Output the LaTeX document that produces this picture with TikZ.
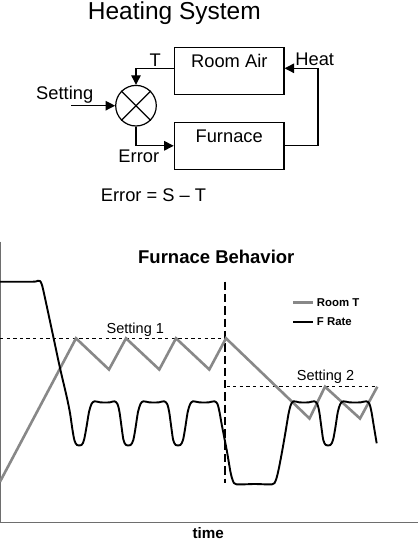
\documentclass[tikz,border=0pt]{standalone}
\usepackage{fontspec}
\setmainfont{Liberation Sans}
\usetikzlibrary{arrows.meta}
\definecolor{axisgray}{RGB}{110,110,110}
\definecolor{roomgray}{RGB}{136,136,136}
\begin{document}
\begin{tikzpicture}[x=1pt,y=-1pt,
  lbl/.style={font=\fontsize{18.3}{20}\selectfont, inner sep=0pt, anchor=base},
  ttlfont/.style={font=\fontsize{24.5}{27}\selectfont, inner sep=0pt, anchor=base},
  boldlbl/.style={font=\fontsize{18.5}{20}\selectfont\bfseries, inner sep=0pt, anchor=base},
  timelbl/.style={font=\fontsize{15.2}{17}\selectfont\bfseries, inner sep=0pt, anchor=base},
  setlbl/.style={font=\fontsize{14.5}{16}\selectfont, inner sep=0pt, anchor=base},
  leglbl/.style={font=\fontsize{11.4}{13}\selectfont\bfseries, inner sep=0pt, anchor=west},
  blk/.style={draw, line width=1.2pt, minimum width=109.7pt, minimum height=47pt, inner sep=0pt},
  wire/.style={line width=1.2pt},
  sig/.style={line width=1.2pt, -{Triangle[length=9.5pt,width=9.5pt]}},
  axisline/.style={line width=1.2pt, draw=axisgray},
  dotline/.style={line width=1.4pt, dash pattern=on 3.3pt off 3.3pt},
  vdash/.style={line width=1.9pt, dash pattern=on 8.3pt off 4pt},
  roomcurve/.style={line width=2.6pt, draw=roomgray},
  fcurve/.style={line width=1.9pt, draw=black, line join=round}
]
\useasboundingbox (0,0) rectangle (418,541);

% ---------------- block diagram ----------------
\node[ttlfont] (ttl) at (174.3,19.3) {Heating System};

\node[blk] (room) at (229.15,70.65) {};
\node[blk] (furn) at (229.15,145.8) {};
\node[lbl] (roomtxt) at (229.3,67.7) {Room Air};
\node[lbl] (furntxt) at (229.2,142.7) {Furnace};

\node[draw, circle, minimum size=40.6pt, inner sep=0pt, line width=1.2pt] (sum) at (136,105.7) {};
\draw[wire] (sum.north west) -- (sum.south east);
\draw[wire] (sum.north east) -- (sum.south west);

\coordinate (setin) at (71,105.7);
\draw[sig] ([yshift=2.35pt]room.west) -| (sum.north);
\draw[sig] (setin) -- (sum.west);
\draw[sig] (sum.south) |- (furn.west);
\draw[sig] (furn.east) -- ++(33.3,0) |- ([yshift=2.35pt]room.east);

\node[lbl] (tlab) at (155.2,66.7) {T};
\node[lbl] (heat) at (314.7,65.7) {Heat};
\node[lbl] (setlab) at (64.7,99) {Setting};
\node[lbl] (errlab) at (138.8,162.7) {Error};
\node[lbl] (eq) at (153.5,201.7) {Error = S – T};

% ---------------- furnace behaviour plot ----------------
\node[boldlbl] (ftitle) at (216.3,263.3) {Furnace Behavior};
\node[timelbl] (tlabel) at (208.3,538.3) {time};

\draw[axisline] (0.7,241.7) -- (0.7,522.5) -- (418,522.5);

\draw[dotline] (0,338.3) -- (226,338.3);
\draw[dotline] (226.5,386.7) -- (377.3,386.7);
\node[setlbl] (set1) at (135.3,333) {Setting 1};
\node[setlbl] (set2) at (325.5,380.7) {Setting 2};

\draw[vdash] (225.3,281.7) -- (225.3,483.3);

% legend
\draw[roomcurve] (293.3,302.3) -- (313.3,302.3);
\draw[line width=1.9pt] (293.3,321.7) -- (313.3,321.7);
\node[leglbl] (legroom) at (316.7,302.3) {Room T};
\node[leglbl] (legf) at (316.7,321.7) {F Rate};

% room temperature
\draw[roomcurve] (0,481.7) -- (76,338.3) -- (109,369.5) -- (126,338.3) -- (159.3,369.5)
  -- (176,338.3) -- (209.3,369.5) -- (226,338.3) -- (309.5,418.5) -- (325,386.7)
  -- (360,418.5) -- (377.3,386.7);

% furnace rate
\draw[fcurve] plot[smooth, tension=0.5] coordinates {
 (0,281.7) (33,281.7) (37.5,280.8) (40,281) (42,285) (45,298) (53.3,336.7) (60,368)
 (66.7,396.7) (70,413) (72.5,430) (74.5,440.5) (77,445) (81.5,445) (84,440) (86.5,427)
 (89,412) (91.5,404) (94.5,401.3) (100,402.3) (105,402.5) (110,402.3) (114.5,401.3)
 (117.5,404) (119.5,412) (121.7,428) (123.5,440) (126,445) (130.6,445) (133.3,440)
 (135.5,428) (138,412) (140.5,404) (143.3,401.3) (149,402.3) (154,402.5) (159,402.3) (164,401.3)
 (167.2,404) (169.2,412) (171.4,428) (173.2,440) (175.7,445) (180.3,445) (183,440)
 (185.2,428) (187.7,412) (190.2,404) (193,401.3) (199,402.3) (204,402.5) (209,402.3) (214.5,401.3)
 (217.5,404) (219.5,412) (222,426) (226.7,450) (230.5,472) (233,481) (236.5,484.3)
 (255,484) (272,484.3) (275.5,481) (278.3,471) (282,452) (285.5,432) (288.5,414)
 (290.8,405) (293.5,401.3) (299,402.3) (304,402.5) (309,402.3) (314.3,401.3)
 (317.3,404) (319.3,412) (321.5,428) (323.3,440) (325.8,445) (330.4,445) (333,440)
 (335.3,428) (337.8,412) (340.3,404) (343.3,401.3) (349,402.3) (355,402.5) (361,402.3) (366.5,401.3)
 (369.5,404) (371.5,412) (373.8,426) (376.7,443.3)};
\end{tikzpicture}
\end{document}
